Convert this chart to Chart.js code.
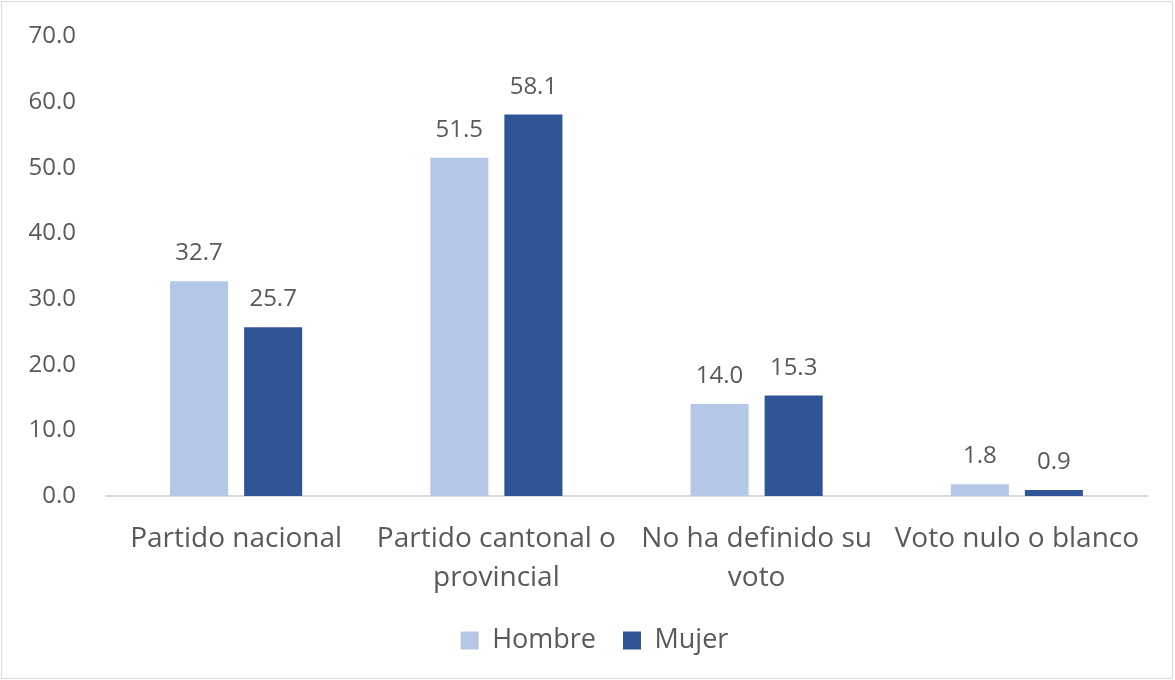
<!DOCTYPE html>
<html>
<head>
<meta charset="utf-8">
<script src="https://cdn.jsdelivr.net/npm/chart.js@4"></script>
<style>
  html, body { margin: 0; padding: 0; background: #fff; }
  #wrap { position: relative; width: 1175px; height: 680px; }
  #frame { position: absolute; left: 1px; top: 1px; width: 1170px; height: 676px; border: 1px solid #d9d9d9; pointer-events: none; }
</style>
</head>
<body>
<div id="wrap">
  <canvas id="barChart" width="1175" height="680"></canvas>
  <div id="frame"></div>
</div>
<script>
var categories = [
    'Partido nacional',
    ['Partido cantonal o', 'provincial'],
    ['No ha definido su', 'voto'],
    'Voto nulo o blanco'
];
var hombre = [32.7, 51.5, 14.0, 1.8];
var mujer = [25.7, 58.1, 15.3, 0.9];

var textColor = '#595959';
var fontFamily = "'Open Sans', 'Noto Sans', sans-serif";

// labels above each bar
var valueLabels = {
    id: 'valueLabels',
    afterDatasetsDraw: function(chart) {
        var ctx = chart.ctx;
        ctx.save();
        ctx.font = '24px ' + fontFamily;
        ctx.fillStyle = textColor;
        ctx.textAlign = 'center';
        ctx.textBaseline = 'alphabetic';
        chart.data.datasets.forEach(function(ds, i) {
            chart.getDatasetMeta(i).data.forEach(function(bar, j) {
                ctx.fillText(ds.data[j].toFixed(1), bar.x, bar.y - 21);
            });
        });
        ctx.restore();
    }
};

Chart.defaults.font.family = fontFamily;
Chart.defaults.color = textColor;

var ctx = document.getElementById('barChart').getContext('2d');
var myChart = new Chart(ctx, {
    type: 'bar',
    data: {
        labels: categories,
        datasets: [{
            label: 'Hombre',
            data: hombre,
            backgroundColor: '#B4C7E7'
        }, {
            label: 'Mujer',
            data: mujer,
            backgroundColor: '#2F5597'
        }]
    },
    options: {
        responsive: false,
        animation: false,
        categoryPercentage: 0.569,
        barPercentage: 0.784,
        layout: {
            padding: { left: 14, right: 0, top: 18, bottom: 16 }
        },
        plugins: {
            legend: {
                position: 'bottom',
                labels: {
                    boxWidth: 18,
                    boxHeight: 18,
                    padding: 27,
                    font: { size: 27 }
                }
            },
            tooltip: { enabled: false }
        },
        scales: {
            x: {
                grid: { display: false },
                border: { display: true, color: '#d9d9d9', width: 2 },
                afterFit: function(axis) { axis.height = 104; },
                ticks: {
                    font: { size: 28, lineHeight: 1.4 },
                    color: textColor,
                    maxRotation: 0,
                    padding: 15
                }
            },
            y: {
                min: 0,
                max: 70,
                grid: { display: false },
                border: { display: false },
                afterFit: function(axis) { axis.width = 92; },
                ticks: {
                    stepSize: 10,
                    font: { size: 24 },
                    color: textColor,
                    padding: 22,
                    callback: function(v) { return v.toFixed(1); }
                }
            },
            // empty right-hand axis, only keeps space after the plot
            yRight: {
                position: 'right',
                min: 0,
                max: 70,
                grid: { display: false },
                border: { display: false },
                ticks: { display: false },
                afterFit: function(axis) { axis.width = 28; }
            }
        }
    },
    plugins: [valueLabels]
});
</script>
</body>
</html>
